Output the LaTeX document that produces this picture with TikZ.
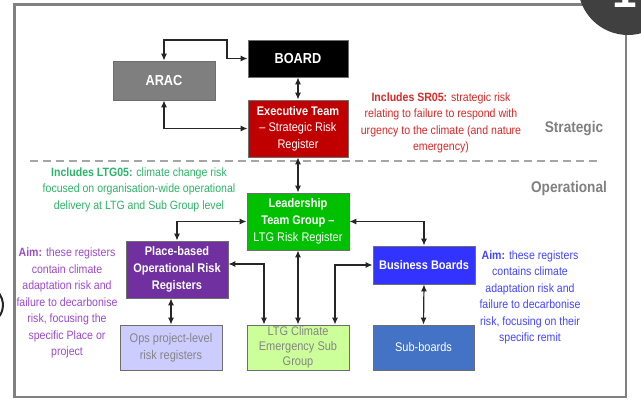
\documentclass[tikz,border=0pt]{standalone}
\usepackage{fontspec}
\setmainfont[FakeStretch=0.88]{Liberation Sans}
\newfontfamily\digitfont{Liberation Sans}
\usetikzlibrary{arrows.meta,calc}

\definecolor{framegray}{HTML}{808080}
\definecolor{badge}{HTML}{404040}
\definecolor{wire}{HTML}{262626}
\definecolor{boxline}{HTML}{6E6E6E}
\definecolor{aracgray}{HTML}{7F7F7F}
\definecolor{execred}{HTML}{C00000}
\definecolor{ltggreen}{HTML}{00C000}
\definecolor{placepurple}{HTML}{7030A0}
\definecolor{bizblue}{HTML}{3333FF}
\definecolor{opslav}{HTML}{CCCCFF}
\definecolor{subgreen}{HTML}{CCFF99}
\definecolor{subblue}{HTML}{4472C4}
\definecolor{paletext}{HTML}{858585}
\definecolor{notered}{HTML}{D62B2B}
\definecolor{notegreen}{HTML}{2FB36A}
\definecolor{notepurple}{HTML}{9B4DCA}
\definecolor{noteblue}{HTML}{4646FF}
\definecolor{tiergray}{HTML}{808080}
\definecolor{dashgray}{HTML}{A6A6A6}

\tikzset{
  box/.style={draw=boxline, line width=0.8pt, rectangle, align=center,
    inner sep=0pt, text=white, font=\fontsize{12.5}{17}\selectfont},
  bigbox/.style={box, font=\fontsize{14.5}{17}\selectfont\bfseries},
  note/.style={align=center, inner sep=0pt, font=\fontsize{12}{16.5}\selectfont},
  tier/.style={inner sep=0pt, text=tiergray, font=\fontsize{15.5}{18}\selectfont\bfseries},
  biarrow/.style={draw=wire, line width=1.2pt,
    {Latex[length=7pt,width=6pt]}-{Latex[length=7pt,width=6pt]}},
}

\begin{document}
\begin{tikzpicture}[x=1pt,y=-1pt]
\useasboundingbox (0,0) rectangle (641,404);
\fill[white] (0,0) rectangle (641,404);

% outer frame
\draw[framegray, line width=2.7pt] (14.5,4.5) rectangle (626,397);

% corner badge and left arc
\begin{scope}
  \clip (0,0) rectangle (641,404);
  \fill[badge] (628,-15) circle[radius=50];
  \node[anchor=base, text=white, inner sep=0pt,
        font=\digitfont\fontsize{44}{44}\selectfont\bfseries] (badgenum) at (624.5,8) {1};
  \draw[wire, line width=2pt] (-16,305) ++(-50:19) arc[start angle=-50, end angle=50, radius=19];
\end{scope}

% tier separator
\draw[dashgray, line width=1.5pt, dash pattern=on 8pt off 5pt] (30,161) -- (600,161);
\node[tier] (strategic) at (574,129) {Strategic};
\node[tier] (operational) at (569,188) {Operational};

% boxes
\node[bigbox, fill=aracgray, minimum width=102, minimum height=39] (arac) at (164,80.5) {ARAC};
\node[bigbox, fill=black, minimum width=100, minimum height=37] (board) at (298,58.5) {BOARD};
\node[box, fill=execred, minimum width=100, minimum height=57,
      font=\fontsize{12.5}{16.5}\selectfont] (exec) at (298,128.5)
  {\textbf{Executive Team}\\– Strategic Risk\\Register};
\node[box, fill=ltggreen, minimum width=102, minimum height=57] (ltg) at (298,221.5)
  {\textbf{Leadership}\\\textbf{Team Group –}\\LTG Risk Register};
\node[box, fill=placepurple, minimum width=102, minimum height=57] (place) at (177,269.5)
  {\textbf{Place-based}\\\textbf{Operational Risk}\\\textbf{Registers}};
\node[box, fill=bizblue, minimum width=102, minimum height=38] (biz) at (424,265)
  {\textbf{Business Boards}};
\node[box, fill=opslav, text=paletext, minimum width=102, minimum height=45] (ops) at (171,347.5)
  {Ops project-level\\risk registers};
\node[box, fill=subgreen, text=paletext, minimum width=102, minimum height=45,
      font=\fontsize{12.5}{15}\selectfont] (ltgc) at (298,347.5)
  {LTG Climate\\Emergency Sub\\Group};
\node[box, fill=subblue, minimum width=101, minimum height=45] (sub) at (423.5,347.5) {Sub-boards};

% notes
\node[note, text=notered] (srnote) at (441,123)
  {\textbf{Includes SR05:} strategic risk\\relating to failure to respond with\\urgency to the climate (and nature\\emergency)};
\node[note, text=notegreen] (ltgnote) at (139,189.5)
  {\textbf{Includes LTG05:} climate change risk\\focused on organisation-wide operational\\delivery at LTG and Sub Group level};
\node[note, text=notepurple] (placenote) at (67,303)
  {\textbf{Aim:} these registers\\contain climate\\adaptation risk and\\failure to decarbonise\\risk, focusing the\\specific Place or\\project};
\node[note, text=noteblue] (biznote) at (530,297.5)
  {\textbf{Aim:} these registers\\contains climate\\adaptation risk and\\failure to decarbonise\\risk, focusing on their\\specific remit};

% connectors
\coordinate (aracbend) at (227,40);
\draw[biarrow] (arac.north) |- (aracbend) |- (board.west);
\draw[biarrow] (arac.south) |- (exec.west);
\draw[biarrow] (board.south) -- (exec.north);
\draw[biarrow] (exec.south) -- (ltg.north);
\draw[biarrow] (ltg.west) -| (place.north);
\draw[biarrow] (ltg.east) -| (biz.north);
\draw[biarrow] ([yshift=5.5pt]place.east) -| ([xshift=-34pt]ltgc.north);
\draw[biarrow] (ltg.south) -- (ltgc.north);
\draw[biarrow] ([xshift=37pt]ltgc.north) |- (biz.west);
\draw[biarrow] (ops.north |- place.south) -- (ops.north);
\draw[biarrow] (biz.south) -- (sub.north);
\end{tikzpicture}
\end{document}
